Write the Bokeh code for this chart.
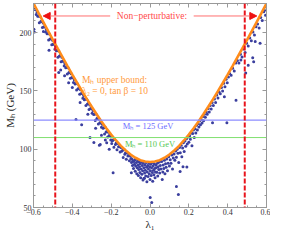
from bokeh.plotting import figure
from bokeh.models import (Span, Label, Arrow, NormalHead, LinearAxis, Range1d,
                          FixedTicker, CustomJSTickFormatter)
from bokeh.embed import file_html
from bokeh.resources import INLINE

# ---------------- data ----------------
# upper-bound curve (orange)
lam_curve = [-0.6, -0.575, -0.55, -0.525, -0.5, -0.475, -0.45, -0.425, -0.4, -0.375,
             -0.35, -0.325, -0.3, -0.275, -0.25, -0.225, -0.2, -0.175, -0.15, -0.125,
             -0.1, -0.075, -0.05, -0.025, 0.0, 0.025, 0.05, 0.075, 0.1, 0.125, 0.15,
             0.175, 0.2, 0.225, 0.25, 0.275, 0.3, 0.325, 0.35, 0.375, 0.4, 0.425,
             0.45, 0.475, 0.5, 0.525, 0.55, 0.575, 0.6]
mh_curve = [225.0, 217.1, 209.3, 201.5, 193.8, 186.2, 178.7, 171.3, 164.0, 156.8,
            149.8, 143.0, 136.4, 130.0, 123.8, 118.0, 112.5, 107.5, 102.9, 98.9,
            95.4, 92.7, 90.6, 89.4, 89.0, 89.4, 90.6, 92.7, 95.4, 98.9, 102.9,
            107.5, 112.5, 118.0, 123.8, 130.0, 136.4, 143.0, 149.8, 156.8, 164.0, 171.3,
            178.7, 186.2, 193.8, 201.5, 209.3, 217.1, 225.0]

# scan points (blue dots)
lam_left = [-0.598, -0.594, -0.590, -0.586, -0.582, -0.578, -0.574, -0.570, -0.566, -0.562,
            -0.558, -0.554, -0.550, -0.546, -0.542, -0.538, -0.534, -0.530, -0.526, -0.522,
            -0.518, -0.514, -0.510, -0.506, -0.502, -0.498, -0.494, -0.490, -0.486, -0.482,
            -0.478, -0.474, -0.470, -0.466, -0.462, -0.458, -0.454, -0.450, -0.446, -0.442,
            -0.438, -0.434, -0.430, -0.426, -0.422, -0.418, -0.414, -0.410, -0.406, -0.402,
            -0.398, -0.394, -0.390, -0.386, -0.382, -0.378, -0.374, -0.370, -0.366, -0.362,
            -0.358, -0.354, -0.350, -0.346, -0.342, -0.338, -0.334, -0.330, -0.326, -0.322,
            -0.318, -0.314, -0.310, -0.306, -0.302, -0.298, -0.294, -0.290, -0.286, -0.282,
            -0.278, -0.274, -0.270, -0.266, -0.262, -0.258, -0.254, -0.250, -0.246, -0.242,
            -0.238, -0.234, -0.230, -0.226, -0.222, -0.218, -0.214, -0.210, -0.206, -0.202,
            -0.198, -0.194, -0.190, -0.186, -0.182, -0.178, -0.174, -0.170, -0.166, -0.162,
            -0.158, -0.154, -0.150, -0.146, -0.142, -0.138, -0.134, -0.130, -0.126, -0.122,
            -0.118, -0.114, -0.110, -0.106, -0.102,
            -0.598, -0.596, -0.549, -0.520, -0.470, -0.419, -0.381, -0.352, -0.309, -0.289,
            -0.261, -0.256, -0.223, -0.197, -0.190, -0.096, -0.460, -0.440, -0.400, -0.360,
            -0.320, -0.280, -0.250, -0.230, -0.210]
mh_left = [223.4, 220.1, 219.8, 215.5, 217.8, 214.1, 214.3, 208.5, 213.8, 209.5,
           209.8, 204.5, 208.3, 205.0, 204.8, 200.6, 202.8, 199.1, 199.4, 193.6,
           198.9, 194.6, 194.9, 189.7, 193.4, 190.2, 190.0, 185.8, 188.1, 184.4,
           184.7, 178.9, 184.2, 180.0, 180.3, 175.1, 178.9, 175.7, 175.5, 171.3,
           173.6, 169.9, 170.3, 164.6, 169.9, 165.7, 166.1, 160.9, 164.7, 161.6,
           161.4, 157.3, 159.6, 156.0, 156.4, 150.7, 156.1, 151.9, 152.3, 147.2,
           151.0, 147.9, 147.8, 143.7, 146.1, 142.5, 143.0, 137.4, 142.8, 138.7,
           139.2, 134.1, 138.0, 135.0, 134.9, 130.9, 133.3, 129.8, 130.3, 124.7,
           130.2, 126.2, 126.7, 121.7, 125.8, 122.8, 122.8, 118.8, 121.4, 117.9,
           118.5, 113.1, 118.6, 114.7, 115.3, 110.4, 114.6, 111.7, 111.8, 107.9,
           110.6, 107.3, 108.0, 101.7, 108.4, 104.1, 105.3, 99.5, 104.8, 102.1,
           102.3, 97.6, 101.4, 98.2, 99.0, 92.9, 99.7, 95.6, 97.0, 91.4,
           96.8, 94.2, 94.7, 90.2, 94.1,
           203.0, 200.5, 201.0, 185.0, 165.9, 157.0, 125.5, 121.0, 110.0, 105.8,
           103.4, 104.0, 105.6, 105.0, 79.8, 79.8, 168.0, 163.0, 153.0, 140.0,
           130.0, 118.0, 112.0, 108.0, 100.0]

lam_mid = [-0.098, -0.095, -0.093, -0.090, -0.088, -0.085, -0.083, -0.080, -0.078, -0.076,
           -0.074, -0.072, -0.070, -0.068, -0.066, -0.064, -0.062, -0.060, -0.058, -0.056,
           -0.054, -0.052, -0.050, -0.048, -0.046, -0.044, -0.042, -0.040, -0.038, -0.036,
           -0.034, -0.032, -0.030, -0.028, -0.026, -0.024, -0.022, -0.020, -0.018, -0.016,
           -0.014, -0.012, -0.010, -0.008, -0.006, -0.004, -0.002, 0.000, 0.002, 0.004,
           0.006, 0.008, 0.010, 0.012, 0.014, 0.016, 0.018, 0.020, 0.022, 0.024,
           0.026, 0.028, 0.030, 0.032, 0.035, 0.038, 0.040, 0.042, 0.045, 0.048,
           0.050, 0.053, 0.056, 0.060, 0.063, 0.066, 0.068, 0.071, 0.074, 0.077,
           0.080, 0.083, 0.086, 0.090, 0.093, 0.096, 0.100, 0.104, 0.108, 0.112,
           0.116, 0.120,
           0.009, 0.001, 0.136, 0.146, 0.155, 0.170, 0.190, -0.030]
mh_mid = [92.0, 88.5, 91.5, 86.0, 90.0, 83.5, 89.5, 87.0, 91.0, 81.0,
          85.5, 92.0, 88.5, 79.0, 84.0, 90.0, 86.5, 77.5, 82.5, 89.0,
          85.0, 80.0, 87.5, 75.5, 83.0, 89.0, 78.5, 86.0, 81.5, 73.5,
          88.0, 84.0, 75.0, 79.5, 86.5, 82.0, 77.0, 88.5, 84.5, 72.0,
          80.5, 86.0, 76.5, 83.0, 88.0, 79.0, 85.0, 74.0, 81.5, 87.0,
          77.5, 84.0, 88.5, 80.0, 72.5, 85.5, 82.0, 78.0, 87.5, 83.5,
          75.5, 80.5, 86.5, 84.0, 80.3, 88.0, 77.0, 85.0, 82.5, 89.0,
          79.5, 86.0, 83.0, 89.5, 74.0, 80.5, 86.5, 83.5, 90.5, 79.0,
          87.5, 84.5, 91.5, 81.5, 88.0, 93.5, 85.5, 91.0, 88.0, 95.0,
          83.0, 92.5,
          54.2, 58.5, 68.0, 61.2, 80.9, 85.0, 84.8, 75.0]

lam_right = [0.124, 0.128, 0.132, 0.136, 0.140, 0.144, 0.148, 0.152, 0.156, 0.160,
             0.164, 0.168, 0.172, 0.176, 0.180, 0.184, 0.188, 0.192, 0.196, 0.200,
             0.204, 0.208, 0.212, 0.216, 0.220, 0.224, 0.228, 0.232, 0.236, 0.240,
             0.244, 0.248, 0.252, 0.256, 0.260, 0.264, 0.268, 0.272, 0.276, 0.280,
             0.285, 0.290, 0.295, 0.300, 0.305, 0.310, 0.315, 0.320, 0.326, 0.332,
             0.338, 0.344, 0.350, 0.356, 0.362, 0.368, 0.374, 0.380, 0.386, 0.392,
             0.398, 0.404, 0.410, 0.418, 0.426, 0.434, 0.442, 0.450, 0.458, 0.466,
             0.474, 0.482, 0.490, 0.498, 0.506, 0.514, 0.522, 0.530, 0.538, 0.546,
             0.554, 0.562, 0.570, 0.578, 0.586, 0.592, 0.597, 0.595,
             0.322, 0.396, 0.443, 0.383, 0.493, 0.506, 0.529, 0.534, 0.567, 0.542,
             0.468]
mh_right = [96.0, 90.5, 98.5, 93.0, 100.0, 96.5, 88.5, 101.5, 97.0, 103.5,
            93.5, 101.0, 105.5, 98.0, 107.0, 102.5, 109.0, 104.5, 110.5, 106.0,
            111.5, 108.5, 114.0, 103.0, 113.5, 116.5, 110.0, 117.5, 114.0, 120.5,
            116.5, 122.0, 119.0, 124.5, 121.0, 125.5, 122.5, 128.0, 124.5, 130.0,
            127.5, 132.0, 130.0, 135.0, 132.0, 137.5, 134.5, 140.0, 137.5, 143.0,
            140.0, 146.5, 144.0, 149.0, 147.5, 153.0, 150.0, 156.5, 153.5, 160.0,
            157.0, 162.0, 165.0, 163.5, 169.5, 167.0, 174.0, 176.0, 174.0, 181.5,
            179.0, 186.0, 183.0, 191.0, 188.5, 195.5, 193.0, 200.5, 198.0, 205.0,
            207.5, 204.0, 213.0, 210.5, 218.0, 219.5, 222.5, 215.0,
            122.8, 122.8, 142.0, 145.0, 165.4, 172.0, 178.4, 175.0, 191.0, 192.5,
            176.5]

lam_nonpert = [-0.488, 0.488]        # perturbativity limits
mh_ref_lines = [125, 110]            # reference Higgs masses
x_ticks = [-0.6, -0.4, -0.2, 0.0, 0.2, 0.4, 0.6]
x_tick_labels = ["\u22120.6", "\u22120.4", "\u22120.2", "0.0", "0.2", "0.4", "0.6"]
y_ticks = [50, 100, 150, 200]

FONT = "Liberation Serif"

x_minor = [round(x_ticks[0] + 0.05 * i, 2) for i in range(25)]
y_minor = list(range(50, 230, 10))

def xticker():
    return FixedTicker(ticks=x_ticks, minor_ticks=x_minor)

def yticker():
    return FixedTicker(ticks=y_ticks, minor_ticks=y_minor)

p = figure(width=270, height=232, output_backend="svg", toolbar_location=None,
           x_range=Range1d(-0.6, 0.6), y_range=Range1d(50, 225),
           min_border_left=33, min_border_right=4, min_border_top=3, min_border_bottom=24)
p.background_fill_color = "white"
p.grid.visible = False
p.outline_line_color = "#999999"

def style_axis(ax):
    ax.axis_line_color = "#999999"
    ax.major_tick_line_color = "#999999"
    ax.minor_tick_line_color = "#999999"
    ax.major_tick_in = 4
    ax.major_tick_out = 0
    ax.minor_tick_in = 2
    ax.minor_tick_out = 0
    ax.major_label_text_font = FONT
    ax.major_label_text_font_size = "8px"
    ax.major_label_text_color = "#333333"
    ax.major_label_standoff = 1

p.xaxis.ticker = xticker()
p.yaxis.ticker = yticker()
p.xaxis.major_label_overrides = {t: l for t, l in zip(x_ticks, x_tick_labels)}
style_axis(p.xaxis[0])
style_axis(p.yaxis[0])
p.yaxis.major_label_standoff = 2
p.xaxis.axis_label = "\u03bb\u2081"
p.yaxis.axis_label = "M\u2095 (GeV)"
for ax, fs, so in ((p.xaxis[0], "11px", 0), (p.yaxis[0], "11px", 1)):
    ax.axis_label_text_font = FONT
    ax.axis_label_text_font_style = "normal"
    ax.axis_label_text_font_size = fs
    ax.axis_label_text_color = "#222222"
    ax.axis_label_standoff = so

blank = CustomJSTickFormatter(code="return ''")
top = LinearAxis(ticker=xticker(), formatter=blank)
right = LinearAxis(ticker=yticker(), formatter=blank)
style_axis(top)
style_axis(right)
top.major_label_standoff = 0
right.major_label_standoff = 0
p.add_layout(top, "above")
p.add_layout(right, "right")

# scatter
p.scatter(lam_left + lam_mid + lam_right, mh_left + mh_mid + mh_right,
          marker="circle", size=3.0, fill_color="#3b3f9e", line_color=None)

# orange upper bound
p.line(lam_curve, mh_curve, line_color="#ff8c1a", line_width=2.6)

# reference lines
p.add_layout(Span(location=mh_ref_lines[0], dimension="width", line_color="#8c8cff", line_width=1.2))
p.add_layout(Span(location=mh_ref_lines[1], dimension="width", line_color="#80e070", line_width=1.0))
for xv in lam_nonpert:
    p.add_layout(Span(location=xv, dimension="height", line_color="#e8141c",
                      line_width=2, line_dash="5 2"))

# labels
p.add_layout(Label(x=-0.01, y=119.5, text="M\u2095 = 125 GeV", text_font=FONT, text_font_size="8.5px",
                   text_color="#6e6eff", text_align="center", text_baseline="middle"))
p.add_layout(Label(x=0.0, y=104.5, text="M\u2095 = 110 GeV", text_font=FONT, text_font_size="8.5px",
                   text_color="#55c855", text_align="center", text_baseline="middle"))
p.add_layout(Label(x=-0.35, y=159.5, text="M\u2095 upper bound:", text_font=FONT, text_font_size="9.5px",
                   text_color="#ff9a3c", text_align="left", text_baseline="middle"))
p.add_layout(Label(x=-0.35, y=150.0, text="\u03bb\u2082 = 0, tan \u03b2 = 10", text_font=FONT,
                   text_font_size="9.5px", text_color="#ff9a3c", text_align="left",
                   text_baseline="middle"))
p.add_layout(Label(x=0.01, y=214.3, text="Non\u2212perturbative:", text_font=FONT, text_font_size="9.5px",
                   text_color="#ff4a4a", text_align="center", text_baseline="middle"))
p.add_layout(Arrow(end=NormalHead(size=7, fill_color="#ee1111", line_color="#ee1111"),
                   x_start=-0.205, y_start=214.3, x_end=-0.55, y_end=214.3,
                   line_color="#ff7070", line_width=1))
p.add_layout(Arrow(end=NormalHead(size=7, fill_color="#ee1111", line_color="#ee1111"),
                   x_start=0.225, y_start=214.3, x_end=0.55, y_end=214.3,
                   line_color="#ff7070", line_width=1))

open("out.html", "w").write(file_html(p, INLINE))
